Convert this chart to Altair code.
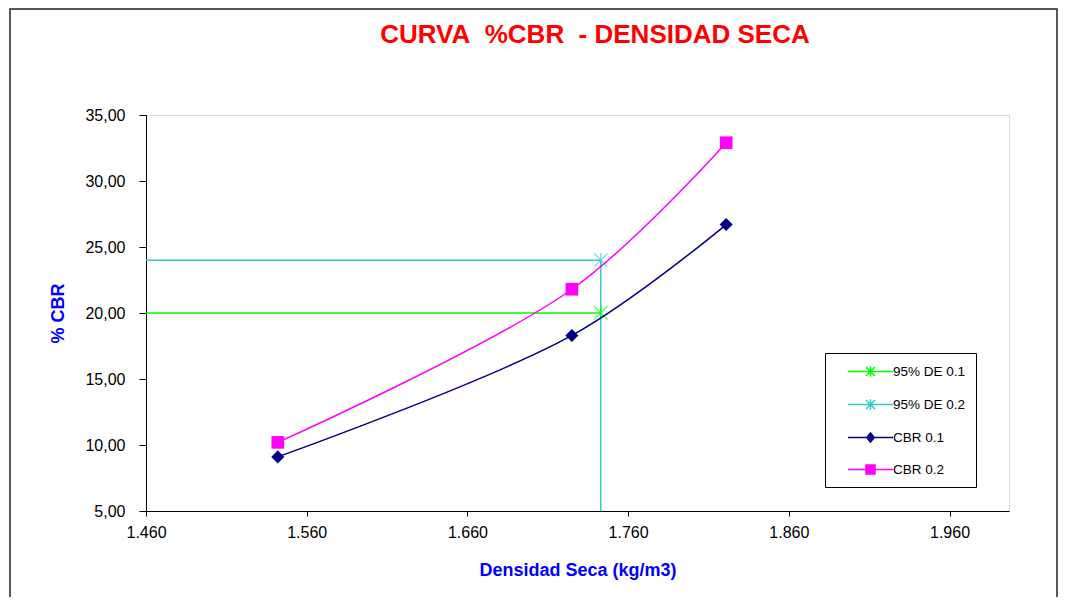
import altair as alt
import pandas as pd

# ---- data ----
chart_title = ["CURVA\u00a0 %CBR\u00a0 - DENSIDAD SECA"]

densidad = [1.542, 1.725, 1.821]
cbr_01 = [9.1, 18.3, 26.7]
cbr_02 = [10.2, 21.8, 32.9]

de_01_x = [1.460, 1.743]
de_01_y = [20.0, 20.0]
de_02_x = [1.460, 1.743, 1.743]
de_02_y = [24.0, 24.0, 5.0]
corner_x = [1.743]
corner_01_y = [20.0]
corner_02_y = [24.0]

series_names = ["95% DE 0.1", "95% DE 0.2", "CBR 0.1", "CBR 0.2"]
series_colors = ["#00FF00", "#33CCCC", "#000080", "#FF00FF"]

x_ticks = [1.46, 1.56, 1.66, 1.76, 1.86, 1.96]
y_ticks = [5, 10, 15, 20, 25, 30, 35]
x_domain = [1.46, 1.997]
y_domain = [5, 35]

# ---- styling ----
FONT = "Liberation Sans"
STAR = "M-1,-1L1,1M-1,1L1,-1M0,-1.1V1.1"
legend_paths = [
    "M-3,0H3M-0.6,-0.6L0.6,0.6M-0.6,0.6L0.6,-0.6M0,-0.7V0.7",
    "M-3,0H3M-0.6,-0.6L0.6,0.6M-0.6,0.6L0.6,-0.6M0,-0.7V0.7",
    "M-3,0H3M0,-0.6L0.5,0L0,0.6L-0.5,0Z",
    "M-3,0H3M-0.6,-0.6H0.6V0.6H-0.6Z",
]

cbr_df = pd.DataFrame({"x": densidad * 2,
                       "y": cbr_01 + cbr_02,
                       "series": ["CBR 0.1"] * 3 + ["CBR 0.2"] * 3})
de1_df = pd.DataFrame({"x": de_01_x, "y": de_01_y})
de2_df = pd.DataFrame({"x": de_02_x, "y": de_02_y})
c1_df = pd.DataFrame({"x": corner_x, "y": corner_01_y})
c2_df = pd.DataFrame({"x": corner_x, "y": corner_02_y})
cb1_df = pd.DataFrame({"x": densidad, "y": cbr_01})
cb2_df = pd.DataFrame({"x": densidad, "y": cbr_02})
title_df = pd.DataFrame({"t": chart_title})

X = alt.X("x:Q", scale=alt.Scale(domain=x_domain, nice=False, zero=False),
          axis=alt.Axis(values=x_ticks, format=".3f", grid=False,
                        title="Densidad Seca (kg/m3)", titleColor="#0000FF",
                        titleFontSize=18, titleFontWeight="bold", titleFont=FONT,
                        titlePadding=21, labelFont=FONT, labelFontSize=16,
                        labelColor="#000000", labelPadding=8, tickSize=5,
                        domainColor="#000000", tickColor="#000000",
                        labelFlush=False))
Y = alt.Y("y:Q", scale=alt.Scale(domain=y_domain, nice=False, zero=False),
          axis=alt.Axis(values=y_ticks, grid=False,
                        labelExpr="replace(format(datum.value, '.2f'), '.', ',')",
                        title="% CBR", titleColor="#0000FF", titleFontSize=18,
                        titleFontWeight="bold", titleFont=FONT, titlePadding=17,
                        labelFont=FONT, labelFontSize=16, labelColor="#000000",
                        labelPadding=14, tickSize=7, domainColor="#000000",
                        tickColor="#000000", labelFlush=False))

frame = alt.Chart(pd.DataFrame({"a": [0]})).mark_rect(
    fill="transparent", stroke="#222222", strokeWidth=1.5
).encode(x=alt.value(-136), x2=alt.value(911), y=alt.value(-106), y2=alt.value(600))

title_mark = alt.Chart(title_df).mark_text(
    font=FONT, fontSize=26, fontWeight="bold", color="#FF0000",
    align="center", baseline="alphabetic"
).encode(text="t:N", x=alt.value(449), y=alt.value(-72))

line_de1 = alt.Chart(de1_df).mark_line(color=series_colors[0], strokeWidth=1.5).encode(x=X, y=Y)
line_de2 = alt.Chart(de2_df).mark_line(color=series_colors[1], strokeWidth=1.5).encode(x=X, y=Y)
star_de1 = alt.Chart(c1_df).mark_point(shape=STAR, size=180, filled=False,
                                        color=series_colors[0], strokeWidth=1.2).encode(x=X, y=Y)
star_de2 = alt.Chart(c2_df).mark_point(shape=STAR, size=180, filled=False,
                                        color=series_colors[1], strokeWidth=1.2).encode(x=X, y=Y)
line_c1 = alt.Chart(cb1_df).mark_line(color=series_colors[2], strokeWidth=1.5,
                                      interpolate="catmull-rom").encode(x=X, y=Y)
line_c2 = alt.Chart(cb2_df).mark_line(color=series_colors[3], strokeWidth=1.5,
                                      interpolate="catmull-rom").encode(x=X, y=Y)
pts_c1 = alt.Chart(cb1_df).mark_point(shape="diamond", size=170, filled=True,
                                      color=series_colors[2], opacity=1).encode(x=X, y=Y)
pts_c2 = alt.Chart(cb2_df).mark_point(shape="square", size=160, filled=True,
                                      color=series_colors[3], opacity=1).encode(x=X, y=Y)

leg = alt.Legend(title=None, orient="none", legendX=679, legendY=238,
                 strokeColor="#000000", padding=10,
                 fillColor="#FFFFFF",
                 symbolSize=225, symbolStrokeWidth=1.5, symbolOffset=27,
                 labelOffset=14, labelFont=FONT, labelFontSize=13.5,
                 labelColor="#000000", rowPadding=16,
                 labelExpr="datum.label + '\u00a0\u00a0\u00a0'")

legend_layer = alt.Chart(cbr_df).transform_filter("false").mark_point(
    filled=True, size=225, opacity=1
).encode(
    x=X, y=Y,
    fill=alt.Fill("series:N", scale=alt.Scale(domain=series_names, range=series_colors), legend=leg),
    stroke=alt.Stroke("series:N", scale=alt.Scale(domain=series_names, range=series_colors), legend=leg),
    shape=alt.Shape("series:N", scale=alt.Scale(domain=series_names, range=legend_paths), legend=leg),
)

chart = alt.layer(
    frame, title_mark, line_de1, line_de2, star_de1, star_de2,
    line_c1, line_c2, pts_c1, pts_c2, legend_layer
).properties(
    width=863, height=396,
    padding={"left": 138, "top": 107, "right": 49, "bottom": 86},
    autosize=alt.AutoSizeParams(type="none"),
).configure_view(stroke="#888888", strokeWidth=1).configure(background="#FFFFFF")

chart.save("out.html", embed_options={"renderer": "svg", "actions": False})
